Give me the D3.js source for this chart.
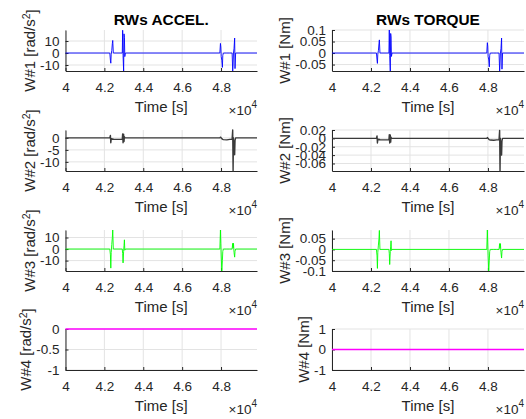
<!DOCTYPE html>
<html><head><meta charset="utf-8">
<script src="https://cdn.jsdelivr.net/npm/d3@7/dist/d3.min.js"></script>
<style>body{margin:0;background:#fff}svg{display:block}</style>
</head><body>
<svg id="c" width="526" height="419"></svg>
<script>
// ---------------- data ----------------
const time = [40000, 42280,42310,42330,42350,42380,42410,42430,42460, 42920,42940,42960,42990,43010,43030,43050,43080, 47940,47970,47990,48010,48040,48070,48090,48120, 48300,48450, 48570,48600,48620,48640,48670,48700,48720,48750, 49850];
const accelW1 = [0, 0,-6,-8.5,-1,2,8,10.5,0, 0,19,-2,-15,16,13,-3,0, 0,8,5,-3,-6,-12,-2,0, 0,0, 0,-15,-10,0,4,12.5,-13,0, 0];
const torqueW1 = [0, 0,-0.03,-0.045,-0.005,0.01,0.04,0.057,0, 0,0.1,-0.01,-0.078,0.085,0.07,-0.015,0, 0,0.045,0.03,-0.015,-0.03,-0.06,-0.01,0, 0,0, 0,-0.078,-0.05,0,0.02,0.065,-0.07,0, 0];
const accelW2 = [0, 0,1,-2,-0.5,-0.3,-0.6,-0.4,-0.6, -0.6,1.7,-2,1.5,-1.5,0.5,0,0, 0,0.3,0.2,0,-0.3,-0.5,-0.6,-0.7, -0.8,-0.6, -0.5,3.3,-13.8,0,-5,-7,-1,0, 0];
const torqueW2 = [0, 0,0.006,-0.011,-0.003,-0.002,-0.0035,-0.0025,-0.0035, -0.0035,0.009,-0.011,0.008,-0.009,0.003,0,0, 0,0.002,0.001,0,-0.002,-0.003,-0.0035,-0.004, -0.0045,-0.0035, -0.003,0.019,-0.078,0,-0.028,-0.04,-0.006,0, 0];
const accelW3 = [0, 0,-5,-16.5,-3,4,10,16.5,0, 0,-4,-12,-2,3,8,-1,0, 0,16.5,5,-6,-19,-10,-2,0, 0,0, 0,5,1,5,-3,-7,-2,0, 0];
const torqueW3 = [0, 0,-0.03,-0.088,-0.015,0.02,0.05,0.088,0, 0,-0.02,-0.07,-0.01,0.015,0.04,-0.005,0, 0,0.09,0.03,-0.03,-0.1,-0.05,-0.01,0, 0,0, 0,0.027,0.005,0.027,-0.015,-0.04,-0.01,0, 0];
const time4 = [40000, 45000, 49850];
const accelW4 = [0, 0, 0];
const torqueW4 = [0, 0, 0];

const xTicks = [40000, 42000, 44000, 46000, 48000];
const xTickLabels = ["4", "4.2", "4.4", "4.6", "4.8"];
const titles = ["RWs ACCEL.", "RWs TORQUE"];
const accelYTicks = [[-10, 0, 10], [-10, -5, 0], [-10, 0, 10], [-1, -0.5, 0]];
const torqueYTicks = [[-0.05, 0, 0.05, 0.1], [-0.06, -0.04, -0.02, 0, 0.02], [-0.1, -0.05, 0, 0.05], [-1, 0, 1]];
const accelYDomains = [[-15, 19.2], [-13.8, 3.3], [-19, 16.5], [-1, 0]];
const torqueYDomains = [[-0.078, 0.1], [-0.078, 0.02], [-0.1, 0.09], [-1, 1]];
const rowColors = ["#0000ff", "#3a3a3a", "#00ff00", "#ff00ff"];
const rowWidths = [0.9, 1.4, 0.9, 1.6];

// ---------------- layout ----------------
const svg = d3.select("#c");
const FONT = "'Liberation Sans', Arial, Helvetica, sans-serif";
const cols = [{x0: 65.5, x1: 257}, {x0: 332, x1: 524}];
const rowTops = [30, 130, 230, 329];
const H = 41;
const axisCol = "#262626", gridCol = "#e3e3e3";
const TICKFS = 13.5;

const panels = [];
const accelVals = [accelW1, accelW2, accelW3, accelW4];
const torqueVals = [torqueW1, torqueW2, torqueW3, torqueW4];
for (let r = 0; r < 4; r++) {
  const t = r === 3 ? time4 : time;
  panels.push({col: 0, row: r, t, v: accelVals[r], dom: accelYDomains[r], ticks: accelYTicks[r],
    label: ["W#" + (r + 1) + " [rad/s", "2", "]"]});
  panels.push({col: 1, row: r, t, v: torqueVals[r], dom: torqueYDomains[r], ticks: torqueYTicks[r],
    label: ["W#" + (r + 1) + " [Nm]"]});
}

const fmt = d => String(+d.toFixed(6));
const gridLayer = svg.append("g");
const axisLayer = svg.append("g");
const dataLayer = svg.append("g");

panels.forEach((p, i) => {
  const c = cols[p.col], top = rowTops[p.row], bot = top + H;
  const x = d3.scaleLinear().domain([40000, 49850]).range([c.x0, c.x1]);
  const y = d3.scaleLinear().domain(p.dom).range([bot, top]);
  const g = axisLayer.append("g");

  // grid
  gridLayer.append("g").selectAll("line").data(xTicks).join("line")
    .attr("x1", d => x(d)).attr("x2", d => x(d)).attr("y1", top).attr("y2", bot)
    .attr("stroke", gridCol).attr("stroke-width", 1);
  gridLayer.append("g").selectAll("line").data(p.ticks).join("line")
    .attr("x1", c.x0).attr("x2", c.x1).attr("y1", d => y(d)).attr("y2", d => y(d))
    .attr("stroke", gridCol).attr("stroke-width", 1);

  // data line
  const pts = p.t.map((tt, k) => [tt, p.v[k]]);
  dataLayer.append("path").datum(pts)
    .attr("fill", "none").attr("stroke", rowColors[p.row]).attr("stroke-width", rowWidths[p.row])
    .attr("stroke-linejoin", "round")
    .attr("d", d3.line().x(d => x(d[0])).y(d => y(d[1])));

  // axes
  const xa = d3.axisBottom(x).tickValues(xTicks).tickFormat((d, k) => xTickLabels[k]).tickSize(-3).tickSizeOuter(0).tickPadding(11.5);
  const ya = d3.axisLeft(y).tickValues(p.ticks).tickFormat(fmt).tickSize(-3).tickSizeOuter(0).tickPadding(6);
  const gx = g.append("g").attr("transform", `translate(0,${bot})`).call(xa);
  const gy = g.append("g").attr("transform", `translate(${c.x0},0)`).call(ya);
  [gx, gy].forEach(a => {
    a.select(".domain").attr("stroke", axisCol).attr("stroke-width", 1);
    a.selectAll(".tick line").attr("stroke", axisCol);
    a.selectAll("text").attr("fill", axisCol).style("font-family", FONT).style("font-size", TICKFS + "px");
  });

  // x label
  g.append("text").attr("x", (c.x0 + c.x1) / 2).attr("y", bot + 41)
    .attr("text-anchor", "middle").attr("fill", axisCol)
    .style("font-family", FONT).style("font-size", "15px").text("Time [s]");
  // exponent
  const ex = g.append("text").attr("x", c.x1).attr("y", bot + 44)
    .attr("text-anchor", "end").attr("fill", axisCol)
    .style("font-family", FONT).style("font-size", "13.5px");
  ex.append("tspan").text("\u00d710");
  ex.append("tspan").attr("dy", -7).style("font-size", "10px").text("4");

  // y label, placed left of the widest tick label
  let maxW = 0;
  gy.selectAll(".tick text").each(function () {
    maxW = Math.max(maxW, this.getComputedTextLength());
  });
  const minLeft = c.x0 - 6 - maxW;
  const lx = minLeft - 5, ly = (top + bot) / 2;
  const yl = g.append("text").attr("transform", `translate(${lx},${ly}) rotate(-90)`)
    .attr("text-anchor", "middle").attr("fill", axisCol)
    .style("font-family", FONT).style("font-size", "15px");
  yl.append("tspan").text(p.label[0]);
  if (p.label.length > 1) {
    yl.append("tspan").attr("dy", "-0.45em").style("font-size", "10.5px").text(p.label[1]);
    yl.append("tspan").attr("dy", "0.45em").text(p.label[2]);
  }

  // title
  if (p.row === 0) {
    g.append("text").attr("x", (c.x0 + c.x1) / 2).attr("y", 25)
      .attr("text-anchor", "middle").attr("fill", "#000")
      .style("font-family", FONT).style("font-size", "15.4px").style("font-weight", "bold")
      .text(titles[p.col]);
  }
});
</script>
</body></html>
